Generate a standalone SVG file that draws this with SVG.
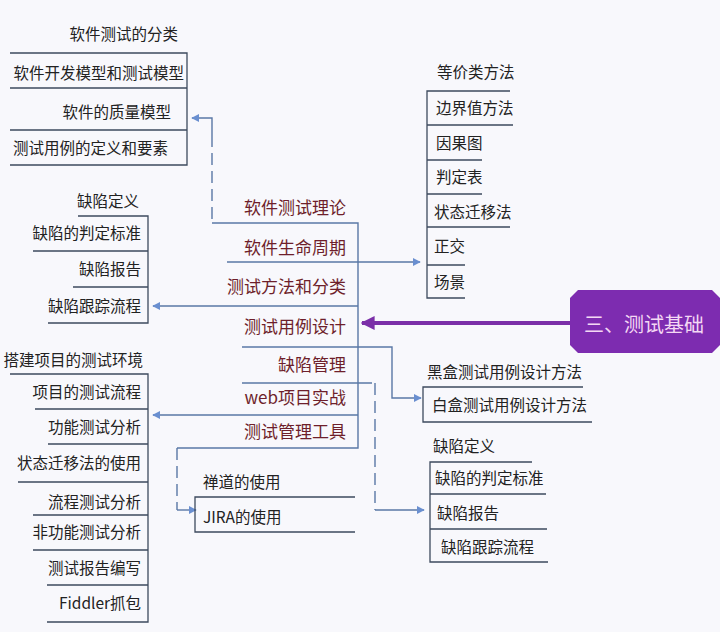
<svg xmlns="http://www.w3.org/2000/svg" width="720" height="632" viewBox="0 0 720 632">
<defs>
<style>
text{font-family:"Noto Sans CJK SC","Liberation Sans",sans-serif;font-size:15.5px;fill:#222}
.c{font-size:17px;fill:#6e1f2b}
.t{font-size:20px;fill:#f4d8f4}
.b{fill:none;stroke:#3d4a5e;stroke-width:1.3}
.k{fill:none;stroke:#5a78a6;stroke-width:1.4}
.d{stroke-dasharray:12 6}
.e{text-anchor:end}
</style>
<marker id="ah" viewBox="0 0 10 10" refX="9" refY="5" markerWidth="8" markerHeight="11" markerUnits="userSpaceOnUse" orient="auto"><path d="M0,0L10,5L0,10z" fill="#6a8fd0"/></marker>
<marker id="ap" viewBox="0 0 10 10" refX="9" refY="5" markerWidth="14" markerHeight="16" markerUnits="userSpaceOnUse" orient="auto"><path d="M0,0L10,5L0,10z" fill="#7b2fa8"/></marker>
</defs>
<rect width="720" height="632" fill="#f8f8fc"/>

<g id="connectors">
<path class="k" d="M212,135V118H192" marker-end="url(#ah)"/>
<path class="k d" d="M212,135V223"/>
<path class="k" d="M212,223H358V448H177"/>
<path class="k" d="M227,262H420" marker-end="url(#ah)"/>
<path class="k" d="M358,306H153" marker-end="url(#ah)"/>
<path class="k" d="M242,347H392V398H421" marker-end="url(#ah)"/>
<path class="k" d="M242,383H372"/>
<path class="k d" d="M375,383V510"/>
<path class="k" d="M375,510H424" marker-end="url(#ah)"/>
<path class="k" d="M358,415H153" marker-end="url(#ah)"/>
<path class="k d" d="M177,448V510"/>
<path class="k" d="M177,510H196" marker-end="url(#ah)"/>
<path d="M570,323H362" stroke="#7b2fa8" stroke-width="4" fill="none" marker-end="url(#ap)"/>
</g>

<g id="root">
<path d="M578,290H712L720,298V345L712,353H578L570,345V298Z" fill="#7d2cb0"/>
<text class="t" x="644" y="332" text-anchor="middle">三、测试基础</text>
</g>

<g id="center">
<text class="c e" x="346" y="214">软件测试理论</text>
<text class="c e" x="346" y="254">软件生命周期</text>
<text class="c e" x="346" y="293">测试方法和分类</text>
<text class="c e" x="346" y="333">测试用例设计</text>
<text class="c e" x="346" y="371">缺陷管理</text>
<text class="c e" x="346" y="404">web项目实战</text>
<text class="c e" x="346" y="438">测试管理工具</text>
</g>

<g id="left-theory">
<path class="b" d="M10,53H187V165H10M10,88H187M10,130H187"/>
<text class="e" x="178" y="40">软件测试的分类</text>
<text class="e" x="184" y="79">软件开发模型和测试模型</text>
<text class="e" x="171" y="118">软件的质量模型</text>
<text class="e" x="168" y="154">测试用例的定义和要素</text>
</g>

<g id="left-defect">
<path class="b" d="M78,216H148V323H48M33,251H148M73,287H148"/>
<text class="e" x="139" y="207">缺陷定义</text>
<text class="e" x="141" y="239">缺陷的判定标准</text>
<text class="e" x="141" y="275">缺陷报告</text>
<text class="e" x="141" y="312">缺陷跟踪流程</text>
</g>

<g id="left-web">
<path class="b" d="M10,374H148V622H47M35,409H148M48,444H148M18,482H148M33,515H148M33,550H148M47,585H148"/>
<text class="e" x="143" y="366">搭建项目的测试环境</text>
<text class="e" x="141" y="398">项目的测试流程</text>
<text class="e" x="141" y="433">功能测试分析</text>
<text class="e" x="141" y="469">状态迁移法的使用</text>
<text class="e" x="141" y="508">流程测试分析</text>
<text class="e" x="141" y="538">非功能测试分析</text>
<text class="e" x="141" y="574">测试报告编写</text>
<text class="e" x="141" y="609">Fiddler抓包</text>
</g>

<g id="tools">
<path class="b" d="M355,497H195V532H355"/>
<text x="203" y="488">禅道的使用</text>
<text x="203" y="523">JIRA的使用</text>
</g>

<g id="right-methods">
<path class="b" d="M510,91H427V298H465M427,125H513M427,160H482M427,194H482M427,227H510M427,265H465"/>
<text x="437" y="78">等价类方法</text>
<text x="436" y="114">边界值方法</text>
<text x="436" y="149">因果图</text>
<text x="436" y="183">判定表</text>
<text x="434" y="218">状态迁移法</text>
<text x="434" y="252">正交</text>
<text x="434" y="288">场景</text>
</g>

<g id="right-design">
<path class="b" d="M583,387H423V422H592"/>
<text x="427" y="378">黑盒测试用例设计方法</text>
<text x="432" y="411">白盒测试用例设计方法</text>
</g>

<g id="right-defect">
<path class="b" d="M532,462H430V562H548M430,494H546M430,529H547"/>
<text x="433" y="452">缺陷定义</text>
<text x="435" y="484">缺陷的判定标准</text>
<text x="437" y="519">缺陷报告</text>
<text x="441" y="553">缺陷跟踪流程</text>
</g>
</svg>
